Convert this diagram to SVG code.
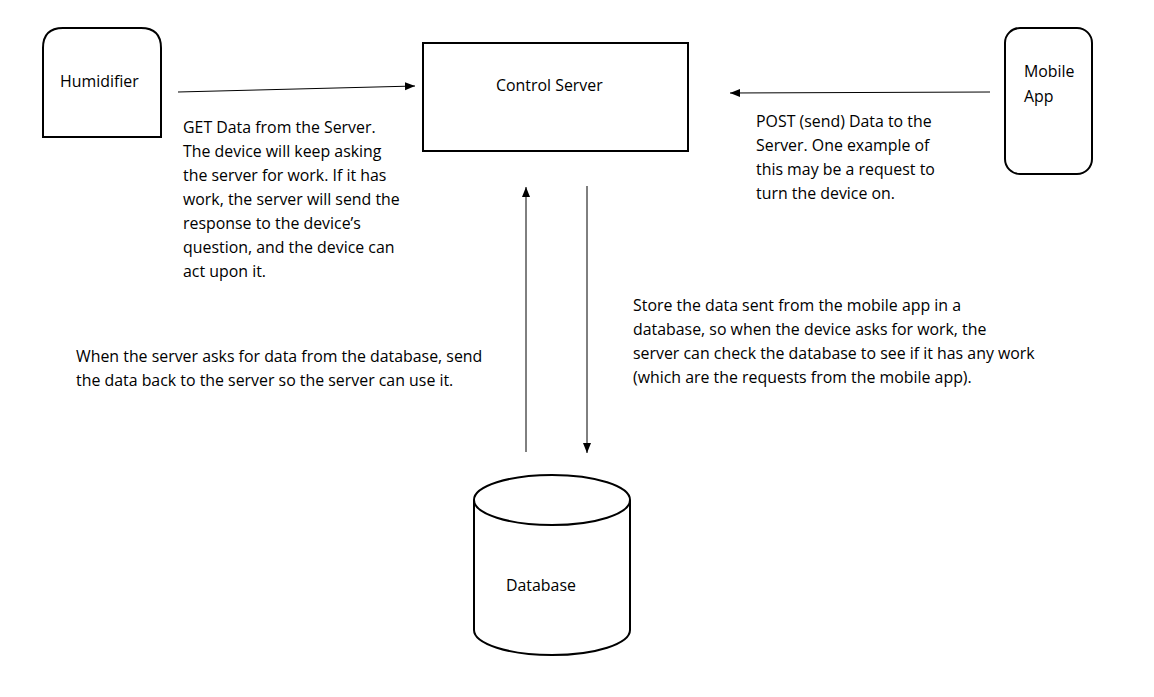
<svg xmlns="http://www.w3.org/2000/svg" width="1154" height="697" viewBox="0 0 1154 697">
<style>
text{font-family:"Open Sans","Noto Sans",sans-serif;font-size:15.9px;fill:#000}
.shape{fill:#fff;stroke:#000;stroke-width:2}
.conn{stroke:#000;stroke-width:1;fill:none;marker-end:url(#ah)}
</style>
<defs>
<marker id="ah" viewBox="0 0 10 10" refX="10" refY="5" markerWidth="10" markerHeight="10" markerUnits="userSpaceOnUse" orient="auto">
<path d="M0,1 L10,5 L0,9 Z" fill="#000"/>
</marker>
</defs>
<rect width="1154" height="697" fill="#fff"/>
<g id="humidifier">
<path class="shape" d="M43,137 V48 Q43,28 63,28 H141 Q161,28 161,48 V137 Z"/>
<text x="60" y="87">Humidifier</text>
</g>
<g id="control-server">
<rect class="shape" x="423" y="43" width="265" height="108"/>
<text x="496" y="91">Control Server</text>
</g>
<g id="mobile-app">
<rect class="shape" x="1005" y="28" width="87" height="146" rx="15"/>
<text x="1024" y="77">Mobile</text>
<text x="1024" y="102">App</text>
</g>
<g id="database">
<path class="shape" d="M474,500 V630 A78,25 0 0 0 630,630 V500"/>
<ellipse class="shape" cx="552" cy="500" rx="78" ry="25"/>
<text x="506" y="591">Database</text>
</g>
<g id="connectors">
<line class="conn" x1="178" y1="92" x2="415" y2="86"/>
<line class="conn" x1="990" y1="92" x2="730" y2="93"/>
<line class="conn" x1="526" y1="452" x2="526" y2="187"/>
<line class="conn" x1="587" y1="186" x2="587" y2="453"/>
</g>
<g id="labels">
<text x="183" y="133">GET Data from the Server.</text>
<text x="183" y="157">The device will keep asking</text>
<text x="183" y="181">the server for work. If it has</text>
<text x="183" y="205">work, the server will send the</text>
<text x="183" y="229">response to the device’s</text>
<text x="183" y="253">question, and the device can</text>
<text x="183" y="277">act upon it.</text>
<text x="756" y="127">POST (send) Data to the</text>
<text x="756" y="151">Server. One example of</text>
<text x="756" y="175">this may be a request to</text>
<text x="756" y="199">turn the device on.</text>
<text x="76" y="362">When the server asks for data from the database, send</text>
<text x="76" y="386">the data back to the server so the server can use it.</text>
<text x="633" y="311">Store the data sent from the mobile app in a</text>
<text x="633" y="335">database, so when the device asks for work, the</text>
<text x="633" y="359">server can check the database to see if it has any work</text>
<text x="633" y="383">(which are the requests from the mobile app).</text>
</g>
</svg>
